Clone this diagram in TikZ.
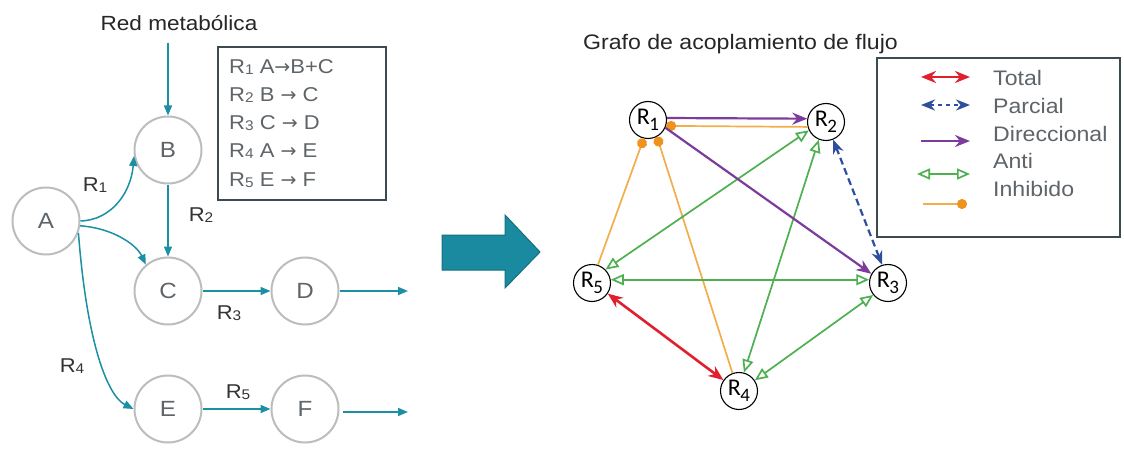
\documentclass[tikz,border=0pt]{standalone}
\usepackage{fontspec}
\setmainfont{Liberation Sans}[FakeStretch=1.1]
\newfontfamily\carl{Carlito}
\newfontfamily\djv{DejaVu Sans}
\usetikzlibrary{arrows.meta}
\definecolor{tealc}{HTML}{1B8FA3}
\definecolor{circg}{HTML}{BDBDBD}
\definecolor{txtg}{HTML}{5E6468}
\definecolor{boxc}{HTML}{3C4A52}
\definecolor{bigf}{HTML}{1A8AA0}
\definecolor{bigd}{HTML}{136F80}
\definecolor{redc}{HTML}{E0202C}
\definecolor{bluec}{HTML}{2E4F9E}
\definecolor{purc}{HTML}{7B3C9C}
\definecolor{grnc}{HTML}{4EB050}
\definecolor{orc}{HTML}{F2AE4A}
\definecolor{ordot}{HTML}{F0921E}
\newcommand\fs[1]{\fontsize{#1}{#1}\selectfont}
\newcommand\rl[1]{R\raisebox{-1pt}{\fs{14}#1}}
\newcommand\rn[1]{R\kern-0.5pt\raisebox{-6.5pt}{\fs{19}#1}}
\newcommand\ar{{\djv\fs{19}→}}
\begin{document}
\begin{tikzpicture}[x=1pt,y=-1pt,
  met/.style={circle,draw=circg,line width=2pt,minimum size=67pt,inner sep=0pt,font=\fs{22},text=txtg},
  tar/.style={draw=tealc,line width=1.5pt,-{Triangle[length=10pt,width=8pt]}},
  lab/.style={font=\fs{20},text=black!80,inner sep=0pt},
  rnode/.style={circle,draw=black,line width=1.1pt,minimum size=37pt,inner sep=0pt,font=\carl\fs{24},text=black},
  tot/.style={draw=redc,line width=2.6pt,{Stealth[length=15pt,width=12pt]}-{Stealth[length=15pt,width=12pt]}},
  par/.style={draw=bluec,line width=2.2pt,dash pattern=on 7pt off 4pt,{Stealth[length=14pt,width=11pt]}-{Stealth[length=14pt,width=11pt]}},
  dir/.style={draw=purc,line width=2.2pt,-{Stealth[length=15pt,width=12pt]}},
  anti/.style={draw=grnc,line width=1.7pt,{Triangle[open,length=13pt,width=11pt]}-{Triangle[open,length=13pt,width=11pt]}},
  inh/.style={draw=orc,line width=1.7pt,-{Circle[length=10pt,color=ordot,fill=ordot]}},
  legt/.style={anchor=west,font=\fs{21},text=txtg,inner sep=0pt},
  boxt/.style={anchor=west,font=\fs{20},text=txtg,inner sep=0pt}]
\useasboundingbox (0,0) rectangle (1124,468);
\fill[white] (0,0) rectangle (1124,468);

% ---------- left: metabolic network ----------
\node[font=\fs{20.5},text=black!85] (title1) at (179,23) {Red metabólica};
\node[met] (A) at (46,221) {A};
\node[met] (B) at (168,150) {B};
\node[met] (C) at (168,291) {C};
\node[met] (D) at (305,291) {D};
\node[met] (E) at (168,409) {E};
\node[met] (F) at (305,409) {F};
\coordinate (top) at (168,43);
\coordinate (Dout) at (408,291);
\coordinate (Fs) at (343,412);
\coordinate (Fe) at (408,412);

\draw[tar] (top) -- (B.north);
\draw[tar] (A.east) .. controls (112,220) and (131,192) .. (B.190);
\draw[tar] (A.-8) .. controls (112,228) and (136,244) .. (C.130);
\draw[tar] (A.-20) .. controls (87,345) and (108,396) .. (E.west);
\draw[tar] (B.south) -- (C.north);
\draw[tar] (C.east) -- (D.west);
\draw[tar] (E.east) -- (F.west);
\draw[tar] (D.east) -- (Dout);
\draw[tar] (Fs) -- (Fe);

\node[lab] (l1) at (95,185) {\rl{1}};
\node[lab] (l2) at (201,215) {\rl{2}};
\node[lab] (l3) at (229,313) {\rl{3}};
\node[lab] (l4) at (72,366) {\rl{4}};
\node[lab] (l5) at (238,392) {\rl{5}};

\draw[draw=boxc,line width=2pt] (218,47) rectangle (386,200);
\node[boxt] (b1) at (229,67) {\rl{1} A\ar B+C};
\node[boxt] (b2) at (229,95) {\rl{2} B \ar\ C};
\node[boxt] (b3) at (229,123) {\rl{3} C \ar\ D};
\node[boxt] (b4) at (229,151) {\rl{4} A \ar\ E};
\node[boxt] (b5) at (229,180) {\rl{5} E \ar\ F};

% ---------- big arrow ----------
\filldraw[fill=bigf,draw=bigd,line width=1pt]
  (442,235) -- (505,235) -- (505,215) -- (540,252) -- (505,288) -- (505,270) -- (442,270) -- cycle;

% ---------- right: flux coupling graph ----------
\node[font=\fs{21},text=black!85,anchor=west,inner sep=0pt] (title2) at (583,44) {Grafo de acoplamiento de flujo};

\node[rnode] (R1) at (648,120) {\rn{1}};
\node[rnode] (R2) at (826,122) {\rn{2}};
\node[rnode] (R3) at (888,283) {\rn{3}};
\node[rnode] (R4) at (739,391) {\rn{4}};
\node[rnode] (R5) at (592,283) {\rn{5}};

\draw[inh] (R5.72) -- (R1.257);
\draw[inh] (R4.110) -- (R1.-62);
\draw[inh] (R2.195) -- (R1.-18);
\draw[anti] (R2.206) -- (R5.45);
\draw[anti] (R2.248) -- (R4.75);
\draw[anti] (R5.10) -- (R3.170);
\draw[anti] (R3.219) -- (R4.34);
\draw[dir] (R1.6) -- (R2.170);
\draw[dir] (R1.-24) -- (R3.151);
\draw[par] (R2.-68) -- (R3.108);
\draw[tot] (R5.-34) -- (R4.145);

% legend
\draw[draw=boxc,line width=2pt] (877,58) rectangle (1120,237);
\coordinate (t1) at (921,77);  \coordinate (t2) at (970,77);
\coordinate (p1) at (921,105); \coordinate (p2) at (970,105);
\coordinate (d1) at (921,141); \coordinate (d2) at (970,141);
\coordinate (a1) at (917,174); \coordinate (a2) at (970,174);
\coordinate (i1) at (923,204); \coordinate (i2) at (967,204);
\draw[tot] (t1) -- (t2);
\draw[par,dash pattern=on 4pt off 4pt] (p1) -- (p2);
\draw[dir] (d1) -- (d2);
\draw[anti] (a1) -- (a2);
\draw[inh] (i1) -- (i2);
\node[legt] (lt) at (993,78) {Total};
\node[legt] (lp) at (993,106) {Parcial};
\node[legt] (ld) at (993,134) {Direccional};
\node[legt] (la) at (993,161) {Anti};
\node[legt] (li) at (993,189) {Inhibido};
\end{tikzpicture}
\end{document}
